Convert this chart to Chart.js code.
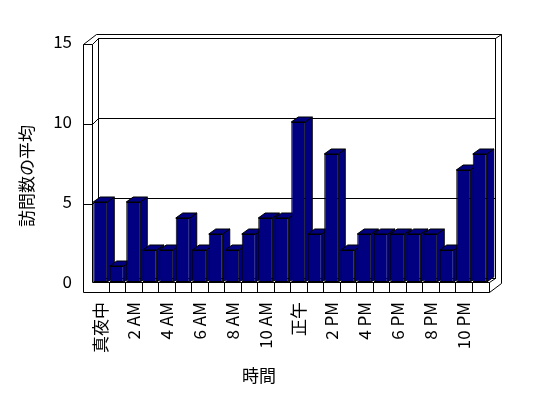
<!doctype html>
<html>
<head>
<meta charset="utf-8">
<title>訪問数の平均</title>
<script src="https://cdn.jsdelivr.net/npm/chart.js@4/dist/chart.umd.min.js"></script>
<style>
  html, body { margin: 0; padding: 0; background: #fff; }
</style>
</head>
<body>
<canvas id="myChart" width="548" height="398"></canvas>
<script>
  // data
  const hours = [0, 1, 2, 3, 4, 5, 6, 7, 8, 9, 10, 11, 12, 13, 14, 15, 16, 17, 18, 19, 20, 21, 22, 23];
  const tickLabels = ['真夜中', '2 AM', '4 AM', '6 AM', '8 AM', '10 AM', '正午', '2 PM', '4 PM', '6 PM', '8 PM', '10 PM'];
  const visits = [5, 1, 5, 2, 2, 4, 2, 3, 2, 3, 4, 4, 10, 3, 8, 2, 3, 3, 3, 3, 3, 2, 7, 8];
  const yTicks = [0, 5, 10, 15];
  const xTitle = '時間';
  const yTitle = '訪問数の平均';

  const NAVY = '#000080';
  const FONT = '"Noto Sans CJK JP", "Noto Sans", sans-serif';

  Chart.defaults.font.family = FONT;
  Chart.defaults.color = '#000';

  const px = v => Math.round(v) + 0.5;
  function seg(ctx, pts) {
    ctx.beginPath();
    ctx.moveTo(px(pts[0][0]), px(pts[0][1]));
    for (let i = 1; i < pts.length; i++) ctx.lineTo(px(pts[i][0]), px(pts[i][1]));
    ctx.stroke();
  }
  function poly(ctx, pts) {
    ctx.beginPath();
    ctx.moveTo(pts[0][0], pts[0][1]);
    for (let i = 1; i < pts.length; i++) ctx.lineTo(pts[i][0], pts[i][1]);
    ctx.closePath();
    ctx.fill();
    ctx.stroke();
  }

  // walls, floor, gridlines and the depth of the bars
  const box3d = {
    id: 'box3d',
    beforeDatasetsDraw(chart) {
      const ctx = chart.ctx;
      const {left: L, right: R, top: T, bottom: B} = chart.chartArea;
      const y = chart.scales.y;
      const x = chart.scales.x;
      const w = (R - L) / hours.length;
      ctx.save();
      ctx.strokeStyle = '#000';
      ctx.lineWidth = 1;

      // back wall
      ctx.strokeRect(px(L + 6), px(T - 4), Math.round(R - L + 1), Math.round(B - T));
      yTicks.forEach(v => {
        const yy = y.getPixelForValue(v);
        if (v > 0 && v < 15) seg(ctx, [[L + 6, yy - 4], [R + 7, yy - 4]]);
        if (v > 0 && v < 15) seg(ctx, [[L - 9, yy + 2], [L, yy + 2], [L + 6, yy - 4]]);
      });

      // left wall
      seg(ctx, [[L - 9, T + 2], [L - 9, B + 10]]);
      seg(ctx, [[L, T + 2], [L, B]]);
      seg(ctx, [[L - 9, T + 2], [L, T + 2], [L + 6, T - 4]]);
      seg(ctx, [[L - 9, T + 2], [L + 4, T - 8], [R + 13, T - 8], [R + 13, B + 1]]);
      seg(ctx, [[R + 7, T - 4], [R + 13, T - 8]]);

      // floor
      seg(ctx, [[L - 9, B + 10], [R + 1, B + 10], [R + 13, B + 1]]);
      seg(ctx, [[L, B], [R + 1, B], [R + 7, B - 4]]);
      seg(ctx, [[R + 1, B], [R + 1, B + 10]]);
      for (let k = 1; k < hours.length; k++) {
        seg(ctx, [[L + k * w, B], [L + k * w, B + 10]]);
      }

      // bar sides and tops, left to right
      ctx.fillStyle = NAVY;
      chart.getDatasetMeta(0).data.forEach(bar => {
        const p = bar.getProps(['x', 'y', 'base', 'width'], true);
        const l = p.x - p.width / 2, r = p.x + p.width / 2;
        poly(ctx, [[r, p.y], [r + 7, p.y - 5], [r + 7, p.base - 5], [r, p.base]]);
        poly(ctx, [[l, p.y], [l + 7, p.y - 5], [r + 7, p.y - 5], [r, p.y]]);
      });
      ctx.restore();
    },
    afterDraw(chart) {
      const ctx = chart.ctx;
      ctx.save();
      ctx.fillStyle = '#000';
      ctx.font = '17px ' + FONT;
      ctx.textAlign = 'center';
      ctx.textBaseline = 'middle';
      ctx.fillText(xTitle, 259, 376);
      ctx.translate(27, 176);
      ctx.rotate(-Math.PI / 2);
      ctx.fillText(yTitle, 0, 0);
      ctx.restore();
    }
  };

  const ctx = document.getElementById('myChart').getContext('2d');
  const myChart = new Chart(ctx, {
    type: 'bar',
    data: {
      labels: hours,
      datasets: [{
        label: yTitle,
        data: visits,
        backgroundColor: NAVY,
        borderColor: '#000',
        borderWidth: 1,
        borderSkipped: false,
        barPercentage: 0.85,
        categoryPercentage: 1.0
      }]
    },
    options: {
      responsive: false,
      animation: false,
      layout: { padding: { left: 0, right: 60, top: 42, bottom: 0 } },
      plugins: {
        legend: { display: false },
        tooltip: { enabled: false }
      },
      scales: {
        x: {
          grid: { display: false, drawTicks: false },
          border: { display: false },
          afterFit: s => { s.height = 116; },
          ticks: {
            autoSkip: false,
            minRotation: 90,
            maxRotation: 90,
            padding: 20,
            font: { size: 17 },
            callback: (value, index) => index % 2 === 0 ? tickLabels[index / 2] : ''
          }
        },
        y: {
          min: 0,
          max: 15,
          grid: { display: false, drawTicks: false },
          border: { display: false },
          afterFit: s => { s.width = 92; },
          afterBuildTicks: s => { s.ticks = yTicks.map(v => ({ value: v })); },
          ticks: {
            padding: 20,
            font: { size: 17 }
          }
        }
      }
    },
    plugins: [box3d]
  });
</script>
</body>
</html>
